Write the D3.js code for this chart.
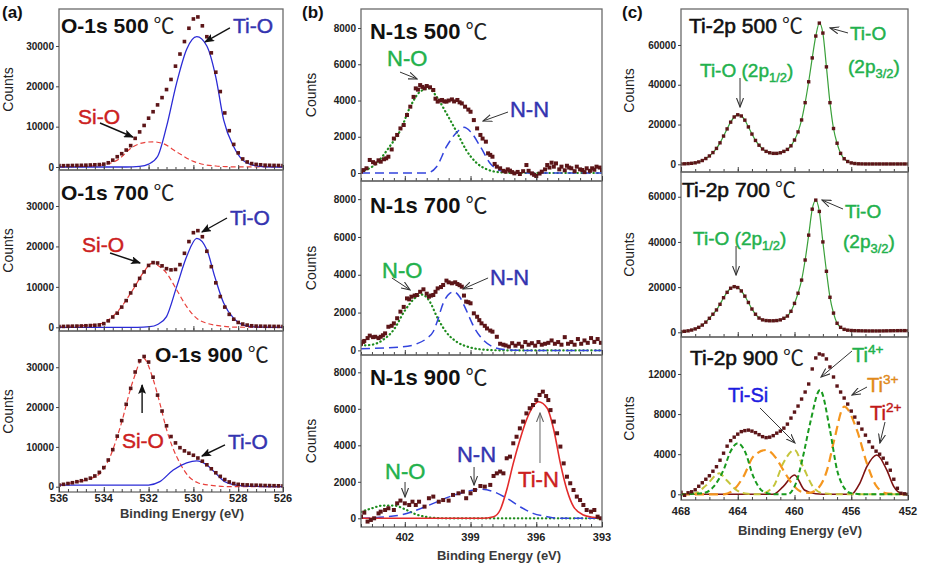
<!DOCTYPE html>
<html>
<head>
<meta charset="utf-8">
<script src="https://cdn.jsdelivr.net/npm/d3@7"></script>
<style>
  body { margin: 0; background: #fff; }
  text { font-family: "Liberation Sans", Arial, sans-serif; }
</style>
</head>
<body>
<svg id="vis"></svg>
<script>
// chart is 928 x 570, three columns of three stacked XPS panels
const width = 928;
const height = 570;

// ---------- data: [binding energy (eV), counts] ----------

// O-1s 500
const o500Data = [[536.0,350],[535.8,330],[535.6,350],[535.4,380],[535.2,400],[535.0,420],[534.8,450],[534.6,500],[534.4,550],[534.2,600],[534.0,700],[533.8,1050],[533.6,1700],[533.4,2550],[533.2,3300],[533.0,4200],[532.8,5300],[532.6,7100],[532.4,8700],[532.2,10300],[532.0,12100],[531.8,13700],[531.6,15400],[531.4,17200],[531.2,19200],[531.0,21700],[530.8,25000],[530.6,28000],[530.4,31100],[530.2,34400],[530.0,36700],[529.8,37200],[529.6,35000],[529.4,32300],[529.2,28300],[529.0,23500],[528.8,18700],[528.6,13400],[528.4,9000],[528.2,5600],[528.0,3500],[527.8,2000],[527.6,1250],[527.4,850],[527.2,650],[527.0,550],[526.8,450],[526.6,420],[526.4,400],[526.2,380],[526.0,350]];
const o500TiO = [[536,0],[533,0],[532.4,150],[532.0,700],[531.6,2600],[531.2,10000],[530.75,20800],[530.3,29200],[529.85,32300],[529.4,30000],[529.0,22300],[528.65,11700],[528.2,5000],[527.8,1700],[527.3,400],[526.8,50],[526,0]];
const o500SiO = [[536,30],[535,150],[534.2,400],[533.4,1700],[532.7,5000],[532.25,6000],[531.8,6250],[531.35,5800],[530.75,3750],[530.0,1400],[529.5,580],[529.0,250],[528.3,50],[527,0],[526,0]];

// O-1s 700
const o700Data = [[536.0,200],[535.8,220],[535.6,250],[535.4,280],[535.2,300],[535.0,330],[534.8,380],[534.6,430],[534.4,500],[534.2,580],[534.0,900],[533.8,1600],[533.6,2550],[533.4,3500],[533.2,5000],[533.0,6600],[532.8,8500],[532.6,10400],[532.4,12100],[532.2,13700],[532.0,15300],[531.8,16000],[531.6,15900],[531.4,15200],[531.2,14500],[531.0,14200],[530.8,14300],[530.6,15500],[530.4,18300],[530.2,21200],[530.0,23400],[529.8,23900],[529.6,22400],[529.4,18800],[529.2,15000],[529.0,11000],[528.8,7600],[528.6,5000],[528.4,3200],[528.2,2000],[528.0,1200],[527.8,800],[527.6,550],[527.4,380],[527.2,300],[527.0,280],[526.8,250],[526.6,250],[526.4,230],[526.2,220],[526.0,200]];
const o700TiO = [[536,0],[532.5,0],[531.95,150],[531.6,700],[531.2,2650],[530.75,10000],[530.3,17500],[529.85,22000],[529.4,19200],[529.05,12600],[528.65,6000],[528.2,2200],[527.8,600],[527.3,100],[526.5,0],[526,0]];
const o700SiO = [[536,100],[535.8,170],[534.2,800],[533.45,3500],[532.7,9300],[532.25,13400],[531.85,15800],[531.5,15000],[531.2,13400],[530.75,9300],[530.3,5100],[529.85,2200],[529.4,1000],[528.8,330],[528.2,50],[527,0],[526,0]];

// O-1s 900
const o900Data = [[536.0,420],[535.8,600],[535.6,800],[535.4,1000],[535.2,1250],[535.0,1500],[534.8,1800],[534.6,2150],[534.4,2700],[534.2,3600],[534.0,4800],[533.8,6700],[533.6,9300],[533.4,12700],[533.2,16600],[533.0,20700],[532.8,24700],[532.6,28800],[532.4,31600],[532.2,32700],[532.0,31300],[531.8,27500],[531.6,23000],[531.4,19000],[531.2,15300],[531.0,12600],[530.8,11000],[530.6,9800],[530.4,9000],[530.2,8400],[530.0,7900],[529.8,7200],[529.6,6400],[529.4,5500],[529.2,4500],[529.0,3500],[528.8,2600],[528.6,1800],[528.4,1200],[528.2,800],[528.0,600],[527.8,500],[527.6,450],[527.4,400],[527.2,380],[527.0,350],[526.8,300],[526.6,280],[526.4,250],[526.2,230],[526.0,200]];
const o900SiO = [[536,420],[535.2,1200],[534.6,2000],[534.17,3350],[533.8,6500],[533.28,14700],[532.7,26500],[532.24,32300],[531.8,27000],[531.5,21000],[531.19,14200],[530.9,9500],[530.6,5900],[530.2,2500],[529.8,1000],[529.2,335],[528.3,0],[526,0]];
const o900TiO = [[536,400],[534,400],[532,420],[531.5,1260],[530.9,4200],[530.3,6000],[529.85,6500],[529.4,5450],[529.0,3350],[528.6,1260],[528.1,420],[527.5,100],[526,0]];

// N-1s 500
const n500Data = [[404.0,75],[403.9,160],[403.75,260],[403.6,720],[403.45,600],[403.35,530],[403.2,700],[403.1,625],[402.95,760],[402.85,810],[402.75,900],[402.6,1300],[402.5,1900],[402.35,2100],[402.2,2460],[402.05,2650],[401.9,3200],[401.75,3660],[401.6,4200],[401.5,4670],[401.4,4600],[401.3,4850],[401.2,4750],[401.1,4670],[401.0,4800],[400.85,4730],[400.7,4580],[400.6,4100],[400.5,3940],[400.4,4000],[400.3,4030],[400.2,3950],[400.1,3940],[400.0,4000],[399.85,4060],[399.75,3950],[399.6,4030],[399.5,3900],[399.4,3840],[399.25,3660],[399.1,3500],[399.0,3380],[398.85,2920],[398.7,2460],[398.55,2100],[398.45,1900],[398.3,1730],[398.2,1085],[398.1,1000],[398.0,900],[397.9,500],[397.8,350],[397.65,260],[397.5,120],[397.4,75],[397.3,200],[397.2,130],[397.1,50],[397.0,-20],[396.85,60],[396.75,-55],[396.6,100],[396.45,440],[396.35,120],[396.2,-20],[396.1,-100],[396.0,-165],[395.85,-30],[395.75,75],[395.6,200],[395.5,440],[395.4,300],[395.3,570],[395.2,350],[395.1,530],[394.95,200],[394.85,350],[394.7,150],[394.6,400],[394.5,300],[394.4,260],[394.25,100],[394.15,350],[394.0,200],[393.9,165],[393.8,50],[393.7,260],[393.55,120],[393.45,260],[393.35,180],[393.25,350],[393.1,300],[393.0,165]];
const n500NO = [[404.0,75],[403.3,530],[402.7,1450],[402.2,2370],[401.75,3660],[401.3,4490],[400.9,4670],[400.55,4210],[400.1,3290],[399.6,2190],[399.2,1270],[398.7,530],[398.25,200],[397.65,40],[397,0],[393,0]];
const n500NN = [[404,0],[401.0,0],[400.55,350],[400.1,1450],[399.6,2280],[399.3,2520],[399.0,2280],[398.55,1450],[398.1,530],[397.65,130],[397.0,0],[393,0]];

// N-1s 700
const n700Data = [[404.0,350],[403.9,450],[403.85,500],[403.7,650],[403.6,780],[403.45,700],[403.35,720],[403.2,650],[403.1,720],[403.0,800],[402.9,900],[402.75,1250],[402.6,1300],[402.5,1430],[402.35,1700],[402.2,2050],[402.05,2300],[401.9,2750],[401.8,2700],[401.7,2840],[401.55,2900],[401.45,2930],[401.3,3100],[401.15,3230],[401.0,3000],[400.9,2840],[400.8,2900],[400.7,2930],[400.6,3100],[400.5,3280],[400.35,3350],[400.25,3460],[400.1,3690],[400.0,3600],[399.85,3550],[399.7,3600],[399.6,3510],[399.5,3450],[399.4,3370],[399.3,2900],[399.2,2580],[399.1,2550],[399.0,2490],[398.85,1960],[398.7,1780],[398.6,1600],[398.5,1430],[398.35,1300],[398.25,1160],[398.1,1050],[398.0,990],[397.8,720],[397.65,350],[397.5,300],[397.4,260],[397.25,200],[397.1,380],[396.95,250],[396.8,350],[396.65,200],[396.5,440],[396.35,300],[396.2,380],[396.05,250],[395.9,440],[395.75,300],[395.6,350],[395.45,400],[395.3,525],[395.15,350],[395.0,440],[394.85,300],[394.7,700],[394.55,350],[394.4,440],[394.25,300],[394.1,600],[393.95,350],[393.8,525],[393.65,400],[393.5,650],[393.35,450],[393.2,600],[393.05,400]];
const n700NO = [[404,260],[403.5,300],[403.0,550],[402.5,1100],[402.0,2100],[401.5,2800],[401.2,2950],[400.9,2650],[400.5,1700],[400.1,950],[399.6,430],[399.0,150],[398.5,50],[397.5,0],[393,0]];
const n700NN = [[404,90],[402.2,175],[401.45,350],[401.0,635],[400.7,1000],[400.55,1430],[400.25,2490],[399.95,3020],[399.75,3100],[399.5,2840],[399.2,2140],[398.85,1250],[398.55,720],[398.4,525],[397.95,175],[397.35,35],[396.5,0],[393,0]];

// N-1s 900
const n900Data = [[404.0,90],[403.85,310],[403.7,-180],[403.55,-90],[403.4,0],[403.2,270],[403.1,365],[402.9,455],[402.75,550],[402.5,455],[402.35,820],[402.2,970],[402.0,820],[401.8,730],[401.65,910],[401.5,730],[401.35,910],[401.1,640],[400.9,1100],[400.7,1190],[400.45,910],[400.25,1000],[400.0,970],[399.8,1280],[399.55,1370],[399.35,1460],[399.2,1100],[399.0,1370],[398.8,1550],[398.55,1770],[398.35,1735],[398.1,1830],[397.95,2320],[397.8,2465],[397.65,2560],[397.5,2465],[397.35,3290],[397.2,3380],[397.05,4110],[396.9,4470],[396.75,4930],[396.6,5300],[396.45,5750],[396.3,6030],[396.15,6210],[396.0,6480],[395.85,6760],[395.7,6940],[395.55,6700],[395.45,6480],[395.35,5930],[395.2,5300],[395.05,4660],[394.9,3930],[394.75,3010],[394.6,2280],[394.45,1920],[394.3,1550],[394.15,1190],[394.0,1000],[393.85,730],[393.7,455],[393.5,365],[393.35,455],[393.2,90],[393.05,0]];
const n900TiN = [[404,0],[398.5,0],[397.95,90],[397.65,455],[397.35,1550],[397.05,3010],[396.75,4290],[396.45,5390],[396.15,6120],[395.9,6390],[395.5,6030],[395.2,4840],[394.9,3010],[394.6,1550],[394.3,640],[393.85,180],[393.4,55],[393,0]];
const n900NN = [[404,0],[402.2,180],[401.45,455],[400.7,820],[399.95,1190],[399.2,1460],[398.55,1590],[397.95,1460],[397.35,1100],[396.75,640],[396.15,270],[395.5,90],[394.9,0],[393,0]];
const n900NO = [[404,350],[403.5,550],[403.0,700],[402.5,700],[402.0,500],[401.5,220],[401.0,70],[400.5,10],[400,0],[393,0]];

// Ti-2p 500
const ti500Data = [[468.0,200],[467.75,250],[467.5,350],[467.25,500],[467.0,750],[466.75,1200],[466.5,1900],[466.25,2900],[466.0,4200],[465.75,5900],[465.5,8000],[465.25,10800],[465.0,14200],[464.75,17800],[464.5,21200],[464.25,23800],[464.0,24900],[463.75,24300],[463.5,22200],[463.25,18800],[463.0,15200],[462.75,12000],[462.5,9600],[462.25,7700],[462.0,6500],[461.75,5800],[461.5,5500],[461.25,5500],[461.0,5800],[460.75,6500],[460.5,7500],[460.25,9300],[460.0,12200],[459.75,16300],[459.5,22300],[459.25,31000],[459.0,41500],[458.75,53500],[458.5,64500],[458.25,71000],[458.0,66000],[457.75,49000],[457.5,31000],[457.25,18000],[457.0,10600],[456.75,5500],[456.5,2800],[456.25,1400],[456.0,700],[455.75,400],[455.5,250],[455.25,200],[455.0,170],[454.75,170],[454.5,170],[454.25,170],[454.0,170],[453.75,170],[453.5,170],[453.25,170],[453.0,170],[452.75,170],[452.5,170],[452.25,170],[452.0,170]];

// Ti-2p 700
const ti700Data = [[468.0,300],[467.75,450],[467.5,650],[467.25,1000],[467.0,1500],[466.75,2200],[466.5,3200],[466.25,4500],[466.0,6200],[465.75,8000],[465.5,9900],[465.25,12400],[465.0,15300],[464.75,17700],[464.5,19500],[464.25,20200],[464.0,19800],[463.75,18300],[463.5,16000],[463.25,13200],[463.0,10300],[462.75,8000],[462.5,6300],[462.25,5500],[462.0,5200],[461.75,5100],[461.5,5100],[461.25,5200],[461.0,5500],[460.75,6200],[460.5,7200],[460.25,9300],[460.0,12800],[459.75,17300],[459.5,23100],[459.25,32000],[459.0,43000],[458.75,54500],[458.5,58500],[458.25,53500],[458.0,40000],[457.75,27000],[457.5,15500],[457.25,8500],[457.0,4000],[456.75,2200],[456.5,1300],[456.25,950],[456.0,800],[455.75,720],[455.5,680],[455.25,650],[455.0,620],[454.75,600],[454.5,600],[454.25,600],[454.0,600],[453.75,620],[453.5,650],[453.25,680],[453.0,700],[452.75,720],[452.5,740],[452.25,740],[452.0,720]];

// Ti-2p 900
const ti900Data = [[468.0,200],[467.75,-100],[467.5,150],[467.25,250],[467.0,450],[466.75,800],[466.5,1150],[466.25,1500],[466.0,1850],[465.75,2300],[465.5,2750],[465.25,3400],[465.0,4100],[464.75,4800],[464.5,5350],[464.25,5700],[464.0,6000],[463.75,6250],[463.5,6350],[463.25,6400],[463.0,6300],[462.75,6150],[462.5,5950],[462.25,5750],[462.0,5650],[461.75,5700],[461.5,5850],[461.25,6100],[461.0,6300],[460.75,6600],[460.5,7000],[460.25,7600],[460.0,8200],[459.75,8800],[459.5,9500],[459.25,10200],[459.0,11000],[458.75,12500],[458.5,13600],[458.25,14000],[458.0,13900],[457.75,13500],[457.5,12700],[457.25,11700],[457.0,10800],[456.75,10200],[456.5,9600],[456.25,9000],[456.0,8300],[455.75,7700],[455.5,7100],[455.25,6500],[455.0,5900],[454.75,5250],[454.5,4700],[454.25,4300],[454.0,4000],[453.75,3600],[453.5,3100],[453.25,2400],[453.0,1500],[452.75,600],[452.5,100],[452.25,50],[452.0,0]];
const ti900Green = [[468,0],[466.5,100],[465.7,760],[465.0,2430],[464.5,4300],[464.0,5090],[463.5,4300],[462.9,1760],[462.2,270],[461.5,0],[460.5,0],[459.9,1100],[459.4,3760],[458.9,7080],[458.2,10400],[457.5,6400],[457.0,2430],[456.55,760],[456,100],[455,0],[452,0]];
const ti900Orange = [[468,0],[465,0],[464.3,430],[463.6,1760],[462.9,3760],[462.0,4420],[461.3,3600],[460.8,2430],[460.1,930],[459.5,250],[459.0,150],[458.5,400],[457.7,2430],[457.2,5420],[456.5,8740],[455.6,6400],[454.9,3090],[454.2,760],[453.5,100],[452,0]];
const ti900Yellow = [[468,0],[467,100],[466.2,930],[465.3,2090],[464.8,1430],[464.1,430],[463.3,50],[462.5,0],[461.5,760],[460.8,3090],[460.0,4420],[459.4,2760],[458.7,760],[458.0,100],[457,0],[452,0]];
const ti900Red = [[468,0],[461.5,0],[460.8,760],[460.0,1930],[459.3,430],[458.5,50],[457.5,0],[456,0],[455.4,1100],[454.9,2760],[454.2,3920],[453.5,2430],[453.0,760],[452.5,100],[452,0]];

// ---------- tick labels ----------
const oTicksX = [536, 534, 532, 530, 528, 526];
const nTicksX = [402, 399, 396, 393];
const tiTicksX = [468, 464, 460, 456, 452];
const oTicksY = [0, 10000, 20000, 30000];
const nTicksY = [0, 2000, 4000, 6000, 8000];
const tiTicksY = [0, 20000, 40000, 60000];
const ti900TicksY = [0, 4000, 8000, 12000];

// ---------- colours / styles ----------
const dotColor = "#5c1518";
const blue = "#3434b0";
const red = "#cc2020";
const green = "#22b14c";
const sBlueSolid = {color: "#2b2bd6", width: 1.3};
const sRedDash = {color: "#e8413c", width: 1.2, dash: "5,3"};
const sGreenDot = {color: "#1e8c1e", width: 2.2, dash: "0.4,3.6", cap: "round"};
const sBlueDash = {color: "#3344dd", width: 1.5, dash: "9,5"};
const sRedSolid = {color: "#e32b2b", width: 1.6};
const sFit = {color: "#3aa03a", width: 1.2};
const sGreenDash = {color: "#199a1f", width: 2, dash: "5,3"};
const sOrangeDash = {color: "#f5961e", width: 2.2, dash: "9,5"};
const sYellowDash = {color: "#c5c53c", width: 2, dash: "7,4"};
const sDarkRed = {color: "#7d1212", width: 1.6};

const columns = [
    {tag: "(a)", tagX: 2, domain: [536, 526], left: 59, right: 283, labels: oTicksX,
        minor: 0.4, tickLabelY: 502, xTitleX: 182, xTitleY: 518, countsX: 13, dot: 3.6},
    {tag: "(b)", tagX: 302, domain: [404, 393], left: 361, right: 602, labels: nTicksX,
        minor: 0.5, tickLabelY: 541, xTitleX: 499, xTitleY: 560, countsX: 316, dot: 4},
    {tag: "(c)", tagX: 622, domain: [468, 452], left: 681, right: 908, labels: tiTicksX,
        minor: 1, tickLabelY: 515, xTitleX: 800, xTitleY: 535, countsX: 634, dot: 3.4}
];

// each panel: pixel rows from the picture, y domain estimated from the tick spacing
const panels = [
    {col: 0, top: 9, bottom: 170, y: [-744, 39170], yTicks: oTicksY, data: o500Data,
        lines: [[o500SiO, sRedDash], [o500TiO, sBlueSolid]],
        title: "O-1s 500", titleAt: [535.91, 33230], titleSize: 21, titleBold: true,
        notes: [{parts: [["Ti-O"]], at: [528.23, 33230], color: blue, size: 21},
            {parts: [["Si-O"]], at: [535.15, 10660], color: red, size: 21}],
        arrows: [{from: [528.37, 34470], to: [529.48, 31000], kind: "solid"},
            {from: [534.17, 10910], to: [532.7, 7440], kind: "solid"}]},
    {col: 0, top: 170, bottom: 331, y: [-915, 38900], yTicks: oTicksY, data: o700Data,
        lines: [[o700SiO, sRedDash], [o700TiO, sBlueSolid]],
        title: "O-1s 700", titleAt: [535.91, 31480], titleSize: 21, titleBold: true,
        notes: [{parts: [["Ti-O"]], at: [528.37, 25300], color: blue, size: 21},
            {parts: [["Si-O"]], at: [534.97, 18620], color: red, size: 21}],
        arrows: [{from: [528.5, 27030], to: [529.62, 23570], kind: "solid"},
            {from: [533.72, 18370], to: [532.38, 15900], kind: "solid"}]},
    {col: 0, top: 331, bottom: 492, y: [-1330, 39100], yTicks: oTicksY, data: o900Data, last: true,
        lines: [[o900SiO, sRedDash], [o900TiO, sBlueSolid]],
        title: "O-1s 900", titleAt: [531.71, 31340], titleSize: 21, titleBold: true,
        notes: [{parts: [["Si-O"]], at: [533.19, 9730], color: red, size: 21},
            {parts: [["Ti-O"]], at: [528.46, 9480], color: blue, size: 21}],
        arrows: [{from: [532.29, 18520], to: [532.29, 25560], kind: "solid"},
            {from: [528.59, 10480], to: [529.62, 7710], kind: "solid"}]},

    {col: 1, top: 9, bottom: 181, y: [-441, 9050], yTicks: nTicksY, data: n500Data,
        lines: [[n500NO, sGreenDot], [n500NN, sBlueDash]],
        title: "N-1s 500", titleAt: [403.59, 7390], titleSize: 22, titleBold: true,
        notes: [{parts: [["N-O"]], at: [402.81, 5900], color: green, size: 22},
            {parts: [["N-N"]], at: [397.2, 3090], color: blue, size: 22}],
        arrows: [{from: [402.22, 5570], to: [401.44, 5190], kind: "open"},
            {from: [397.29, 3365], to: [398.43, 2870], kind: "open"}]},
    {col: 1, top: 181, bottom: 355, y: [-244, 8960], yTicks: nTicksY, data: n700Data,
        lines: [[n700NO, sGreenDot], [n700NN, sBlueDash]],
        title: "N-1s 700", titleAt: [403.59, 7275], titleSize: 22, titleBold: true,
        notes: [{parts: [["N-O"]], at: [403.04, 3830], color: green, size: 22},
            {parts: [["N-N"]], at: [398.11, 3460], color: blue, size: 22}],
        arrows: [{from: [402.59, 3830], to: [401.76, 3200], kind: "open"},
            {from: [398.2, 3830], to: [399.34, 3250], kind: "open"}]},
    {col: 1, top: 355, bottom: 527, y: [-477, 8950], yTicks: nTicksY, data: n900Data, last: true,
        lines: [[n900NO, sGreenDot], [n900NN, sBlueDash], [n900TiN, sRedSolid]],
        title: "N-1s 900", titleAt: [403.59, 7300], titleSize: 22, titleBold: true,
        notes: [{parts: [["N-O"]], at: [402.9, 2150], color: green, size: 22},
            {parts: [["N-N"]], at: [399.62, 3085], color: blue, size: 22},
            {parts: [["Ti-N"]], at: [396.83, 1715], color: red, size: 22}],
        arrows: [{from: [401.99, 1990], to: [401.99, 1170], kind: "open"},
            {from: [398.84, 2810], to: [398.84, 1825], kind: "open"},
            {from: [395.83, 3030], to: [395.83, 5770], kind: "open", color: "#666"}]},

    {col: 2, top: 9, bottom: 172, y: [-3870, 78100], yTicks: tiTicksY, data: ti500Data,
        lines: [[ti500Data, sFit]],
        title: "Ti-2p 500", titleAt: [467.44, 66040], titleSize: 21, titleBold: false,
        notes: [{parts: [["Ti-O (2p"], ["1/2", "sub"], [")"]], at: [466.66, 43910], color: green, size: 19},
            {parts: [["Ti-O"]], at: [456.09, 62520], color: green, size: 19},
            {parts: [["(2p"], ["3/2", "sub"], [")"]], at: [456.23, 45920], color: green, size: 19}],
        arrows: [{from: [463.84, 43400], to: [463.84, 28820], kind: "open"},
            {from: [456.23, 66040], to: [457.5, 68560], kind: "open"}]},
    {col: 2, top: 172, bottom: 337, y: [-2080, 70950], yTicks: tiTicksY, data: ti700Data,
        lines: [[ti700Data, sFit]],
        title: "Ti-2p 700", titleAt: [467.93, 59870], titleSize: 21, titleBold: false,
        notes: [{parts: [["Ti-O (2p"], ["1/2", "sub"], [")"]], at: [467.15, 38630], color: green, size: 19},
            {parts: [["Ti-O"]], at: [456.44, 50580], color: green, size: 19},
            {parts: [["(2p"], ["3/2", "sub"], [")"]], at: [456.58, 37300], color: green, size: 19}],
        arrows: [{from: [464.12, 38190], to: [464.12, 25360], kind: "open"},
            {from: [456.58, 54560], to: [458.06, 58540], kind: "open"}]},
    {col: 2, top: 337, bottom: 500, y: [-570, 15690], yTicks: ti900TicksY, data: ti900Data, last: true,
        lines: [[ti900Red, sDarkRed], [ti900Yellow, sYellowDash], [ti900Orange, sOrangeDash], [ti900Green, sGreenDash]],
        title: "Ti-2p 900", titleAt: [467.37, 12900], titleSize: 21, titleBold: false,
        notes: [{parts: [["Ti"], ["4+", "sup"]], at: [455.95, 13200], color: green, size: 20},
            {parts: [["Ti"], ["3+", "sup"]], at: [454.89, 10200], color: "#e0891a", size: 20},
            {parts: [["Ti"], ["2+", "sup"]], at: [454.68, 7410], color: "#c01818", size: 20},
            {parts: [["Ti-Si"]], at: [464.69, 9210], color: "#1c1ce0", size: 20}],
        arrows: [{from: [455.95, 14290], to: [458.13, 11700], kind: "open"},
            {from: [454.89, 10700], to: [455.95, 9900], kind: "open"},
            {from: [453.62, 7210], to: [453.98, 5120], kind: "open"},
            {from: [462.43, 8610], to: [459.97, 5120], kind: "open"}]}
];

const svg = d3.select("#vis").attr("width", width).attr("height", height);

// arrowheads: a filled one for (a), an open V for (b) and (c)
const defs = svg.append("defs");
defs.append("marker").attr("id", "headSolid")
    .attr("viewBox", "0 0 10 8").attr("refX", 9).attr("refY", 4)
    .attr("markerWidth", 10).attr("markerHeight", 8).attr("markerUnits", "userSpaceOnUse")
    .attr("orient", "auto")
    .append("path").attr("d", "M0,0L10,4L0,8L2,4Z").attr("fill", "#111");
["#333", "#666"].forEach((c, i) => {
    defs.append("marker").attr("id", "headOpen" + i)
        .attr("viewBox", "0 0 10 8").attr("refX", 9).attr("refY", 4)
        .attr("markerWidth", 10).attr("markerHeight", 8).attr("markerUnits", "userSpaceOnUse")
        .attr("orient", "auto")
        .append("path").attr("d", "M0,0.5L9,4L0,7.5").attr("fill", "none")
        .attr("stroke", c).attr("stroke-width", 1.1);
});

function drawPanel(p, idx)
{
    const col = columns[p.col];
    const x = d3.scaleLinear().domain(col.domain).range([col.left, col.right]);
    const y = d3.scaleLinear().domain(p.y).range([p.bottom, p.top]);
    const g = svg.append("g");

    defs.append("clipPath").attr("id", "clip" + idx)
        .append("rect").attr("x", col.left).attr("y", p.top)
        .attr("width", col.right - col.left).attr("height", p.bottom - p.top);
    const plot = g.append("g").attr("clip-path", "url(#clip" + idx + ")");

    const line = d3.line().x(d => x(d[0])).y(d => y(d[1])).curve(d3.curveMonotoneX);

    // fitted components under the measured points
    p.lines.forEach(([data, s]) => {
        plot.append("path").datum(data).attr("d", line)
            .attr("fill", "none").attr("stroke", s.color).attr("stroke-width", s.width)
            .attr("stroke-dasharray", s.dash || null)
            .attr("stroke-linecap", s.cap || "butt");
    });

    plot.selectAll("rect.pt").data(p.data).join("rect").attr("class", "pt")
        .attr("x", d => x(d[0]) - col.dot / 2).attr("y", d => y(d[1]) - col.dot / 2)
        .attr("width", col.dot).attr("height", col.dot).attr("fill", dotColor);

    // frame
    g.append("rect").attr("x", col.left).attr("y", p.top)
        .attr("width", col.right - col.left).attr("height", p.bottom - p.top)
        .attr("fill", "none").attr("stroke", "#6a6a6a").attr("stroke-width", 1.3);

    // y axis, small outward ticks, plain integers
    const yAxis = g.append("g").attr("transform", "translate(" + col.left + ",0)")
        .call(d3.axisLeft(y).tickValues(p.yTicks).tickSize(3).tickPadding(2).tickFormat(d3.format("d")));
    yAxis.select(".domain").remove();
    yAxis.selectAll("line").attr("stroke", "#444");
    yAxis.selectAll("text").attr("font-size", 10).attr("font-weight", "bold")
        .attr("fill", "#222").attr("font-family", "Liberation Sans, Arial, sans-serif");

    // x ticks, pointing up into the panel
    const lo = Math.min(...col.domain), hi = Math.max(...col.domain);
    const minorTicks = d3.range(lo, hi + 1e-6, col.minor);
    const xMinor = g.append("g").attr("transform", "translate(0," + p.bottom + ")")
        .call(d3.axisBottom(x).tickValues(minorTicks).tickSize(-3).tickFormat(""));
    xMinor.select(".domain").remove();
    xMinor.selectAll("line").attr("stroke", "#444");
    const xMajor = g.append("g").attr("transform", "translate(0," + p.bottom + ")")
        .call(d3.axisBottom(x).tickValues(col.labels).tickSize(-5).tickFormat(""));
    xMajor.select(".domain").remove();
    xMajor.selectAll("line").attr("stroke", "#444");

    if (p.last) {
        g.selectAll("text.xt").data(col.labels).join("text").attr("class", "xt")
            .attr("x", d => x(d)).attr("y", col.tickLabelY)
            .attr("text-anchor", "middle").attr("font-size", 11).attr("font-weight", "bold")
            .attr("fill", "#222").text(d => d);
        g.append("text").attr("x", col.xTitleX).attr("y", col.xTitleY)
            .attr("text-anchor", "middle").attr("font-size", 13).attr("font-weight", "bold")
            .attr("fill", "#3a3a3a").text("Binding Energy (eV)");
    }

    // "Counts"
    g.append("text")
        .attr("transform", "translate(" + col.countsX + "," + (p.top + p.bottom) / 2 + ") rotate(-90)")
        .attr("text-anchor", "middle").attr("font-size", 14).attr("fill", "#222").text("Counts");

    // panel title with the degree sign in a CJK face
    const t = g.append("text").attr("x", x(p.titleAt[0])).attr("y", y(p.titleAt[1]))
        .attr("font-size", p.titleSize).attr("fill", "#111")
        .attr("font-weight", p.titleBold ? "bold" : "normal");
    if (!p.titleBold) t.attr("stroke", "#111").attr("stroke-width", 0.6);
    t.append("tspan").text(p.title);
    t.append("tspan").attr("dx", 5).attr("font-weight", "normal").attr("stroke", "none")
        .attr("font-family", "Noto Sans CJK SC").attr("fill", "#222").text("\u2103");

    // labels with sub / superscripts, a light stroke makes them a bit heavier
    p.notes.forEach(n => {
        const tx = g.append("text").attr("x", x(n.at[0])).attr("y", y(n.at[1]))
            .attr("font-size", n.size).attr("fill", n.color)
            .attr("stroke", n.color).attr("stroke-width", 0.45);
        let shift = 0;
        n.parts.forEach(([s, kind]) => {
            const sp = tx.append("tspan").text(s);
            let target = 0;
            if (kind === "sub") { sp.attr("font-size", n.size * 0.68); target = n.size * 0.28; }
            if (kind === "sup") { sp.attr("font-size", n.size * 0.68); target = -n.size * 0.42; }
            if (target !== shift) sp.attr("dy", target - shift);
            shift = target;
        });
    });

    p.arrows.forEach(a => {
        const c = a.color || "#333";
        g.append("line")
            .attr("x1", x(a.from[0])).attr("y1", y(a.from[1]))
            .attr("x2", x(a.to[0])).attr("y2", y(a.to[1]))
            .attr("stroke", a.kind === "solid" ? "#111" : c)
            .attr("stroke-width", a.kind === "solid" ? 1.4 : 1)
            .attr("marker-end", a.kind === "solid" ? "url(#headSolid)"
                : (c === "#666" ? "url(#headOpen1)" : "url(#headOpen0)"));
    });
}

panels.forEach(drawPanel);

// column tags
columns.forEach(c => {
    svg.append("text").attr("x", c.tagX).attr("y", 18)
        .attr("font-size", 17).attr("font-weight", "bold").attr("fill", "#111").text(c.tag);
});
</script>
</body>
</html>
